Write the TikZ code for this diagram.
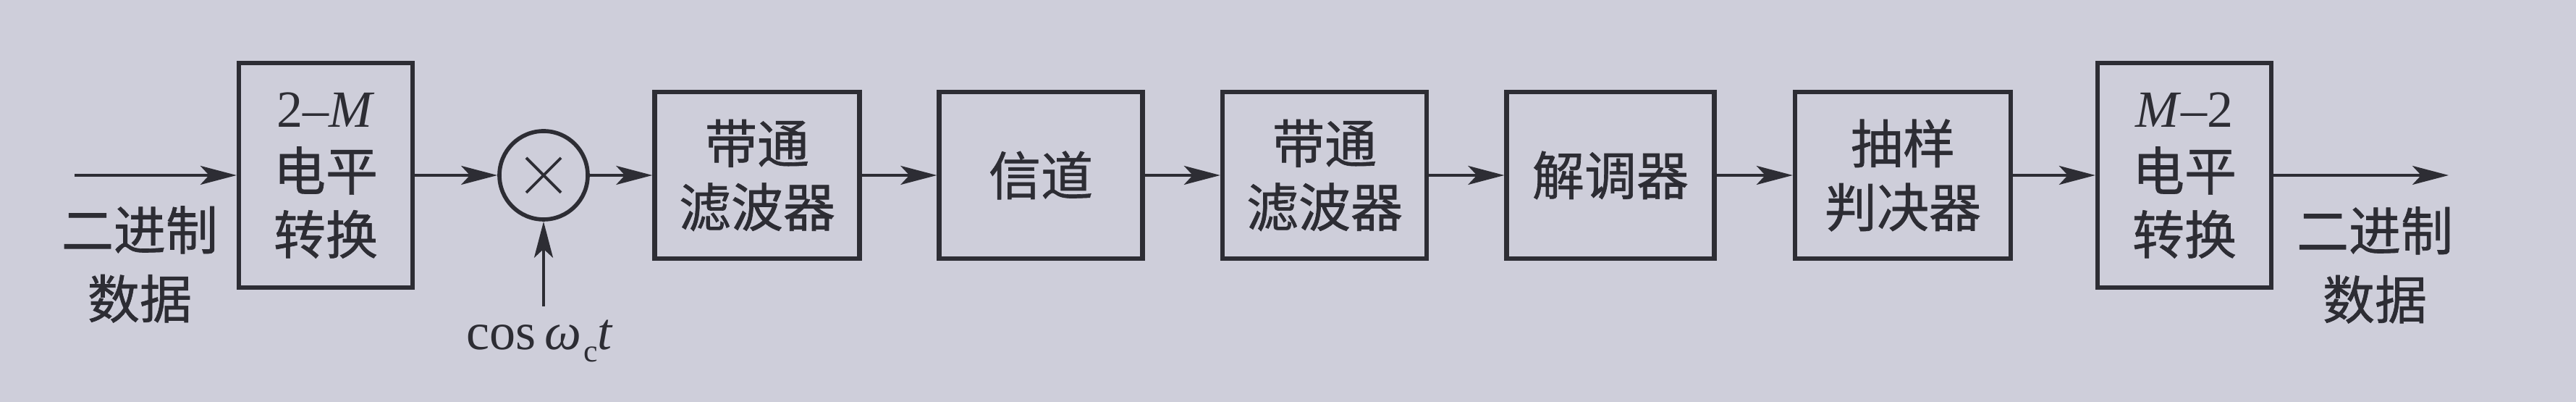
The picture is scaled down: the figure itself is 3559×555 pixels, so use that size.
\documentclass[tikz,border=0pt]{standalone}
\usepackage{fontspec}
\setmainfont{Liberation Serif}
\newfontfamily\cjk[FakeBold=0.9]{Noto Sans CJK SC}
\usetikzlibrary{arrows.meta}
\definecolor{paper}{RGB}{206,206,218}
\definecolor{ink}{RGB}{45,45,52}
\tikzset{
  blk/.style={draw=ink, line width=1.8pt, inner sep=0pt, align=center, text=ink,
    font=\fontsize{20.5pt}{25pt}\selectfont},
  small/.style={blk, minimum height=23mm},
  big/.style={blk, minimum width=24mm, minimum height=31mm},
  arr/.style={draw=ink, line width=1.1pt, -{Stealth[length=5mm,width=2.6mm,inset=1.2mm]}},
  lbl/.style={text=ink, align=center, inner sep=0pt, font=\fontsize{20.5pt}{27pt}\selectfont\cjk},
  mulc/.style={circle, draw=ink, line width=1.6pt, minimum size=12.2mm, inner sep=0pt},
}
\begin{document}
\begin{tikzpicture}[x=0.1mm,y=-0.1mm]
\useasboundingbox (0,0) rectangle (3559,555);
\fill[paper] (0,0) rectangle (3559,555);

\coordinate (in) at (103,242);
\coordinate (out) at (3383,242);
\coordinate (cosin) at (751,423);

\node[big] (b1) at (450,242) {2–\textit{M}\\{\cjk 电平}\\{\cjk 转换}};
\node[mulc] (mul) at (751,242) {};
\draw[ink, line width=1.1pt] ([shift={(-24,-24)}]mul.center) -- ([shift={(24,24)}]mul.center)
  ([shift={(-24,24)}]mul.center) -- ([shift={(24,-24)}]mul.center);
\node[small, minimum width=28.3mm] (b2) at (1046,242) {\cjk 带通\\\cjk 滤波器};
\node[small, minimum width=28.1mm] (b3) at (1438,242) {\cjk 信道};
\node[small, minimum width=28.2mm] (b4) at (1830,242) {\cjk 带通\\\cjk 滤波器};
\node[small, minimum width=28.7mm] (b5) at (2225,242) {\cjk 解调器};
\node[small, minimum width=29.8mm] (b6) at (2629,242) {\cjk 抽样\\\cjk 判决器};
\node[big] (b7) at (3018,242) {\textit{M}–2\\{\cjk 电平}\\{\cjk 转换}};

\node[lbl] (lin) at (193,365) {二进制\\数据};
\node[lbl] (lout) at (3281,366) {二进制\\数据};
\node[text=ink, anchor=base, inner sep=0pt, font=\fontsize{20.5pt}{25pt}\selectfont] (cosl) at (746,483)
  {cos\,\textit{ω}\kern0.3mm\raisebox{-1.7mm}{\fontsize{12.5pt}{12.5pt}\selectfont c}\textit{t}};

\draw[arr] (in) -- (b1);
\draw[arr] (b1) -- (mul);
\draw[arr] (cosin) -- (mul);
\draw[arr] (mul) -- (b2);
\draw[arr] (b2) -- (b3);
\draw[arr] (b3) -- (b4);
\draw[arr] (b4) -- (b5);
\draw[arr] (b5) -- (b6);
\draw[arr] (b6) -- (b7);
\draw[arr] (b7) -- (out);
\end{tikzpicture}
\end{document}
